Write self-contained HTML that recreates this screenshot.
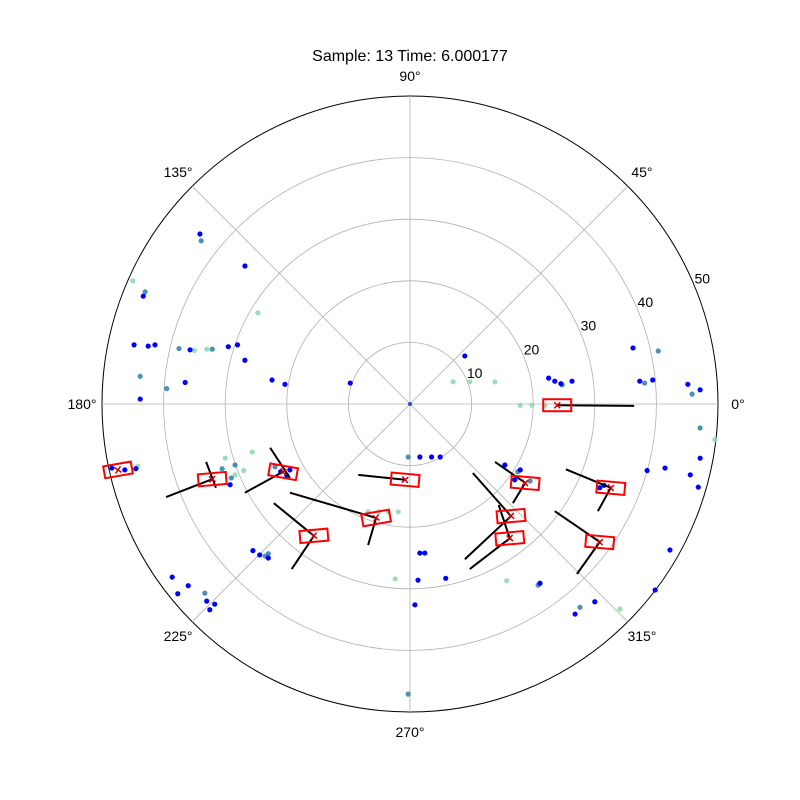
<!DOCTYPE html>
<html><head><meta charset="utf-8"><style>
body{margin:0;background:#fff;}
svg{display:block;font-family:"Liberation Sans",sans-serif;}
</style></head><body>
<svg id="chart" width="800" height="800">
<text x="410" y="61" text-anchor="middle" font-size="16">Sample: 13 Time: 6.000177</text>
<g id="grid"></g><g id="marks"></g><g id="labels"></g>
</svg>
<script>
const cx=410, cy=404, R=308, rMax=50;
const rTicks=[10,20,30,40,50];
const thetaTicks=[0,45,90,135,180,225,270,315];
const blueX=[-34.1,-26.8,-43.3,-44.8,-41.4,-35.7,-29.5,-26.8,-22.4,-20.3,-43.8,-9.7,8.9,23.5,26.3,37.3,39.4,45.1,47.1,36.2,47.1,45.5,41.4,46.8,42.2,39.8,26.8,30.0,21.1,1.6,2.4,1.3,0.8,-31.7,-37.7,-38.6,-24.4,-29.2,-19.5,-46.3,-48.4,1.6,4.9,17.0,17.9,15.4,30.8,-42.5,-36.5,-28.0,-23.0,-21.0,-33.0,-36.0,-25.5,-20.0,3.5,5.8,22.5,24.5,31.5,38.5,-44.5,-32.5];
const blueY=[27.6,22.4,17.5,9.6,9.6,8.8,9.3,7.1,3.9,3.2,0.8,3.4,7.8,3.7,3.7,3.7,3.9,3.2,2.3,9.1,-8.8,-11.5,-10.4,-13.5,-23.7,-30.2,-34.1,-32.1,-29.1,-24.2,-24.2,-28.6,-32.6,-32.5,-30.8,-28.1,-24.5,-13.1,-10.7,-10.7,-10.4,-8.6,-8.6,-12.3,-10.7,-9.9,-13.6,9.4,3.5,9.6,-25.0,-11.0,-32.0,-29.5,-23.8,-11.6,-8.6,-28.3,4.2,3.3,-13.2,-10.8,-10.5,-33.4];
const tealX=[-33.9,-43.0,-43.8,38.1,40.3,45.8,47.1,-33.3,-23.5,-28.4,27.6,-0.3,-0.3,20.8,-21.9,-32.1,24.7,-37.5,-39.5,-29.0,-30.5,17.5,19.5,-23.0];
const tealY=[26.5,18.2,4.5,3.4,8.6,1.6,-3.9,-30.7,-24.7,-9.9,-33.0,-47.1,-8.6,-29.4,-10.2,8.9,3.1,9.0,2.5,-12.0,-10.5,-11.0,-12.5,-24.3];
const greenX=[-45.0,-24.7,7.0,9.7,13.8,17.9,19.8,21.9,-2.4,-6.8,-1.9,15.7,34.1,-44.2,-28.4,-25.6,49.5,-35.0,-33.0,-30.0,-27.0,-5.0,-3.5];
const greenY=[20.0,14.8,3.6,3.6,3.6,-0.2,-0.2,-0.2,-28.4,-17.5,-17.5,-28.7,-33.3,-10.1,-11.5,-7.8,-5.8,8.7,8.9,-8.8,-10.8,-17.5,-17.5];
const boxX=[23.9,-47.4,-32.1,-20.6,-15.6,-5.5,-0.8,18.7,16.4,16.2,32.6,30.8];
const boxY=[-0.2,-10.7,-12.2,-11.0,-21.4,-18.5,-12.3,-12.8,-18.2,-21.8,-13.6,-22.4];
const boxAngle=[0,-10,-5,10,-5,-10,5,5,-5,-5,5,5];
const lineX1=[23.9,-32.1,-33.1,-20.6,-22.7,-15.6,-15.6,-5.5,-5.5,-0.8,18.7,18.7,16.4,16.4,16.2,14.4,32.6,32.6,30.8,30.8];
const lineY1=[-0.2,-12.2,-9.4,-11.0,-7.1,-21.4,-21.4,-18.5,-18.5,-12.3,-12.8,-12.8,-18.2,-18.2,-21.8,-16.4,-13.6,-13.6,-22.4,-22.4];
const lineX2=[36.4,-39.6,-31.5,-26.8,-19.5,-22.1,-19.2,-19.5,-6.8,-8.4,13.8,16.7,10.2,8.9,9.7,16.2,25.3,30.5,23.5,27.1];
const lineY2=[-0.3,-15.1,-13.6,-14.4,-12.0,-16.1,-26.8,-14.4,-22.9,-11.5,-9.4,-16.1,-11.2,-25.2,-26.8,-21.8,-10.6,-17.4,-17.4,-27.6];
const NS="http://www.w3.org/2000/svg";
const sx=v=>cx+v*R/rMax, sy=v=>cy-v*R/rMax, sr=v=>v*R/rMax;
function mk(tag,attrs,parent){const e=document.createElementNS(NS,tag);for(const k in attrs)e.setAttribute(k,attrs[k]);parent.appendChild(e);return e;}
const grid=document.getElementById('grid'),marks=document.getElementById('marks'),labels=document.getElementById('labels');
rTicks.forEach(t=>{
 const c=mk('circle',{cx:cx,cy:cy,r:sr(t),fill:'none',stroke:t===50?'#000':'#b0b0b0','stroke-width':t===50?1:0.8},grid);
 
 
 const a=22.5*Math.PI/180, rr=sr(t)+4;
 const tx=mk('text',{x:cx+rr*Math.cos(a)+4,y:cy-rr*Math.sin(a)-1,'font-size':14,'text-anchor':'middle'},labels);
 tx.textContent=t;
 
 
});
thetaTicks.forEach(d=>{
 const a=d*Math.PI/180;
 const l=mk('line',{x1:cx,y1:cy,x2:cx+R*Math.cos(a),y2:cy-R*Math.sin(a),stroke:'#b0b0b0','stroke-width':0.8},grid);
 
 
 const rr=R+20;
 const tx=mk('text',{x:cx+rr*Math.cos(a),y:cy-rr*Math.sin(a)+5,'font-size':14,'text-anchor':'middle'},labels);
 tx.textContent=d+'°';
 
 
});
function pts(X,Y,col,op,name){X.forEach((x,i)=>{
 const c=mk('circle',{cx:sx(x),cy:sy(Y[i]),r:2.6,fill:col,'fill-opacity':op},marks);
 
 
});}
pts(greenX,greenY,'#8fd9b0',0.9,'green-point');
pts(tealX,tealY,'#2a7fa8',0.85,'teal-point');
pts(blueX,blueY,'#0000ff',1,'blue-point');
lineX1.forEach((x,i)=>{
 const l=mk('line',{x1:sx(x),y1:sy(lineY1[i]),x2:sx(lineX2[i]),y2:sy(lineY2[i]),stroke:'#000','stroke-width':2},marks);
 
 
});
boxX.forEach((x,i)=>{
 const px=sx(x),py=sy(boxY[i]);
 const g=mk('g',{transform:`rotate(${boxAngle[i]} ${px} ${py})`},marks);
 
 
 mk('rect',{x:px-14,y:py-6,width:28,height:12,fill:'none',stroke:'#ff0000','stroke-width':2},g);
 mk('path',{d:`M${px-3} ${py-3}L${px+3} ${py+3}M${px-3} ${py+3}L${px+3} ${py-3}`,stroke:'#cc0000','stroke-width':1.5},g);
});
mk('circle',{cx:cx,cy:cy,r:2,fill:'#3050c0'},marks);
</script>
</body></html>
